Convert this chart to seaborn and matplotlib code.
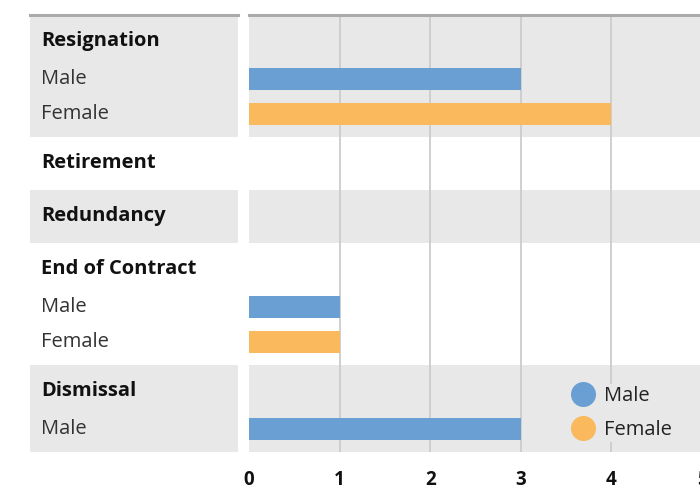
import matplotlib
matplotlib.use("Agg")
import matplotlib.pyplot as plt
from matplotlib.lines import Line2D
import seaborn as sns
import pandas as pd

# Reasons for leaving, with counts per gender (only non-empty groups listed)
categories = ["Resignation", "Retirement", "Redundancy", "End of Contract", "Dismissal"]
genders = ["Male", "Female"]
resignation = {"Male": 3, "Female": 4}
retirement = {}
redundancy = {}
end_of_contract = {"Male": 1, "Female": 1}
dismissal = {"Male": 3}
groups = [resignation, retirement, redundancy, end_of_contract, dismissal]
x_ticks = [0, 1, 2, 3, 4, 5]

colors = {"Male": "#6A9FD4", "Female": "#FAB95C"}
band_gray = "#E8E8E8"

# Row layout (pixel units, measured from the top of the figure)
W, H, DPI = 700, 493, 100
TOP = 15
HEADER_OFF = 26
FIRST_ITEM = 38
ITEM_STEP = 35
BOTTOM_PAD = 23
HEADER_ONLY = 53

rows = []      # (y, text, is_header)
bands = []     # (y0, y1)
bar_records = []
y = TOP
for cat, grp in zip(categories, groups):
    y0 = y
    hy = y0 + HEADER_OFF
    rows.append((hy, cat, True))
    items = [g for g in genders if g in grp]
    if items:
        iy = hy + FIRST_ITEM
        for g in items:
            rows.append((iy, g, False))
            bar_records.append({"reason": cat, "gender": g, "count": grp[g], "ypos": iy})
            last = iy
            iy += ITEM_STEP
        y1 = last + BOTTOM_PAD
    else:
        y1 = y0 + HEADER_ONLY
    bands.append((y0, y1))
    y = y1
BOTTOM = y

df = pd.DataFrame(bar_records)

sns.set_theme(style="white")
plt.rcParams["font.family"] = ["Open Sans", "DejaVu Sans"]
FS = 14.5

fig = plt.figure(figsize=(W / DPI, H / DPI), dpi=DPI)

def fig_rect(x0, x1):
    return [x0 / W, 1 - BOTTOM / H, (x1 - x0) / W, (BOTTOM - TOP) / H]

ZERO_X, UNIT = 249, 90.6
ax_lab = fig.add_axes(fig_rect(30, 238))
ax = fig.add_axes(fig_rect(ZERO_X, ZERO_X + 5 * UNIT))

for a in (ax_lab, ax):
    for i, (b0, b1) in enumerate(bands):
        if i % 2 == 0:
            a.axhspan(b0, b1, color=band_gray, lw=0, zorder=0)
    a.set_ylim(BOTTOM, TOP)
    for s in ("left", "right", "bottom"):
        a.spines[s].set_visible(False)
    a.spines["top"].set_color("#ABABAB")
    a.spines["top"].set_linewidth(2.2)
    a.spines["top"].set_zorder(5)

# Labels column
ax_lab.set_xlim(0, 1)
ax_lab.set_xticks([])
ax_lab.set_yticks([])
for ry, txt, is_header in rows:
    ax_lab.text(11 / 208, ry, txt, ha="left", va="center",
                fontsize=FS, color="#111111" if is_header else "#333333",
                fontweight="bold" if is_header else "normal")

# Bars
sns.barplot(data=df, x="count", y="ypos", hue="gender", hue_order=genders,
            palette=colors, orient="h", native_scale=True, dodge=False,
            width=22 / ITEM_STEP, saturation=1, linewidth=0, edgecolor="none",
            ax=ax, legend=False, zorder=3)
ax.set_ylim(BOTTOM, TOP)
ax.set_xlim(0, 5)
ax.set_xticks(x_ticks)
ax.set_xticklabels([str(t) for t in x_ticks], fontweight="bold", fontsize=FS - 1, color="#111111")
ax.tick_params(axis="x", length=0, pad=13)
ax.set_yticks([])
ax.set_xlabel("")
ax.set_ylabel("")
for t in x_ticks[1:]:
    ax.axvline(t, color="#CCCCCC", lw=1.3, zorder=1)

handles = [Line2D([], [], marker="o", linestyle="", markersize=17,
                  markerfacecolor=colors[g], markeredgecolor=colors[g]) for g in genders]
leg = ax.legend(handles, genders, loc="lower left",
                bbox_to_anchor=((557 - ZERO_X) / (5 * UNIT), 0.0),
                frameon=True, facecolor=band_gray, edgecolor="none", framealpha=1,
                fancybox=False, fontsize=FS, handletextpad=0.35, labelspacing=0.7,
                borderpad=0.1, handlelength=1.4)
for txt in leg.get_texts():
    txt.set_color("#222222")
leg.set_zorder(6)

fig.savefig("out.png", dpi=DPI)
